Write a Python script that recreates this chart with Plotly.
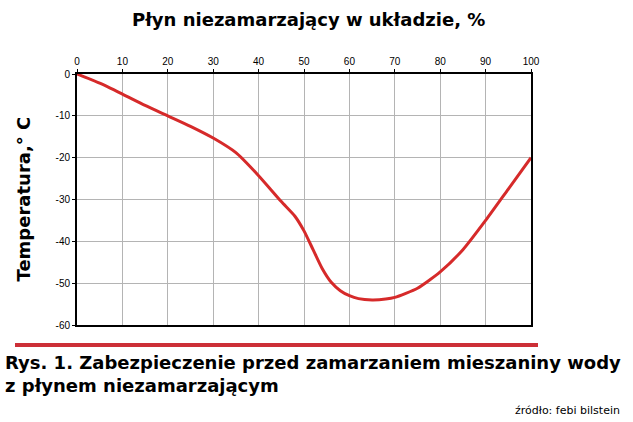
import plotly.graph_objects as go

glycol_pct = [0, 5, 10, 15, 20, 25, 30, 35, 40, 45, 48, 50, 52, 54, 56, 58, 60, 62, 65, 68, 70, 75, 80, 85, 90, 95, 100]
temperature = [0, -2.2, -4.8, -7.5, -10, -12.5, -15.3, -18.8, -24.3, -30.5, -34, -37.5, -42, -46.5, -49.8, -51.8,
               -53, -53.7, -54, -53.8, -53.4, -51.2, -47.3, -42, -35, -27.5, -20]
x_ticks = [0, 10, 20, 30, 40, 50, 60, 70, 80, 90, 100]
y_ticks = [0, -10, -20, -30, -40, -50, -60]

fig = go.Figure()
fig.add_trace(go.Scatter(x=glycol_pct, y=temperature, mode="lines",
                         line=dict(color="#d62a2a", width=3, shape="spline", smoothing=0.6),
                         hoverinfo="skip", showlegend=False))

axis_font = dict(family="Liberation Sans, Arial, sans-serif", size=10, color="black")
PW, PH = 454, 251
fig.update_layout(
    width=633, height=422,
    margin=dict(l=77, r=102, t=74, b=97, autoexpand=False),
    paper_bgcolor="white", plot_bgcolor="white",
    font=dict(family="DejaVu Sans, sans-serif", color="black"),
    xaxis=dict(range=[0, 100], side="top", tickvals=x_ticks, ticktext=[str(v) for v in x_ticks],
               tickfont=axis_font, showgrid=True, gridcolor="#b4b4b4", gridwidth=1,
               showline=True, linecolor="black", linewidth=2, mirror=True,
               ticks="outside", ticklen=3, tickcolor="black", zeroline=False),
    yaxis=dict(range=[-60, 0], tickvals=y_ticks, ticktext=[str(v) for v in y_ticks],
               tickfont=axis_font, showgrid=True, gridcolor="#b4b4b4", gridwidth=1,
               showline=True, linecolor="black", linewidth=2, mirror=True,
               ticks="outside", ticklen=3, tickcolor="black", zeroline=False),
)

fig.add_annotation(text="<b>Płyn niezamarzający w układzie, %</b>", xref="paper", yref="paper",
                   x=231/PW, y=1 + 54/PH, yanchor="middle", showarrow=False,
                   font=dict(size=18, family="DejaVu Sans, sans-serif", color="black"))
fig.add_annotation(text="<b>Temperatura,° C</b>", xref="paper", yref="paper", x=-54/PW, y=0.5,
                   xanchor="center", yanchor="middle", textangle=-90, showarrow=False,
                   font=dict(size=18, family="DejaVu Sans, sans-serif", color="black"))

fig.add_shape(type="line", xref="paper", yref="paper", x0=-62/PW, x1=461/PW, y0=-20/PH, y1=-20/PH,
              line=dict(color="#cc2f37", width=4))
fig.add_annotation(text="<b>Rys. 1. Zabezpieczenie przed zamarzaniem mieszaniny wody<br>z płynem niezamarzającym</b>",
                   xref="paper", yref="paper", x=-74/PW, y=-25/PH, xanchor="left", yanchor="top",
                   align="left", showarrow=False,
                   font=dict(size=18, family="DejaVu Sans, sans-serif", color="black"))
fig.add_annotation(text="źródło: febi bilstein", xref="paper", yref="paper", x=545/PW, y=-85/PH,
                   xanchor="right", yanchor="middle", showarrow=False,
                   font=dict(size=11, family="DejaVu Sans, sans-serif", color="black"))

fig.write_html("out.html", config={"displayModeBar": False},
               post_script="document.body.style.margin='0';")
